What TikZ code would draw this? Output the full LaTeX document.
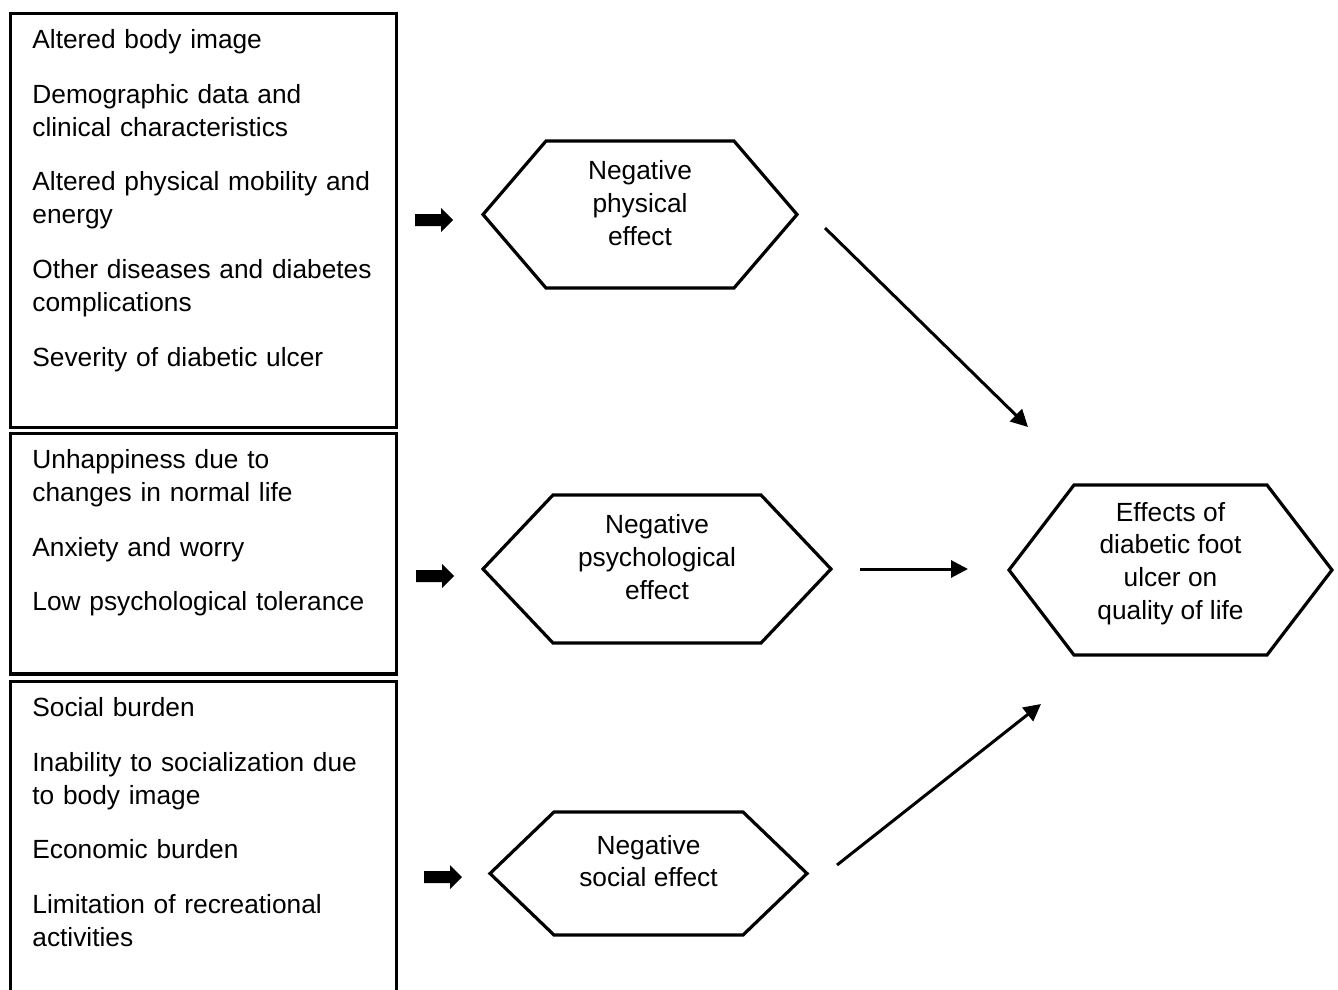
\documentclass[tikz,border=0pt]{standalone}
\usepackage{fontspec}
\setmainfont{Liberation Sans}
\usetikzlibrary{arrows.meta, positioning, calc}

\begin{document}
\begin{tikzpicture}[
  x=0.5pt, y=-0.5pt,
  font=\fontsize{13.15pt}{16.4pt}\selectfont,
  frame/.style={draw, line width=1.8pt, minimum width=193pt, inner sep=0pt},
  items/.style={anchor=base west, align=left, inner sep=0pt, text width=185pt},
  hexlabel/.style={align=center, inner sep=0pt},
  hexline/.style={line width=1.6pt, line join=miter},
  link/.style={line width=1.5pt, -{Triangle[length=8.5pt, width=8.5pt]}}
]

\useasboundingbox (0,0) rectangle (1338,990);

% Factor frames (the last one runs past the lower edge)
\node[frame, minimum height=207pt] (physbox) at (203.5,220.5) {};
\node[frame, minimum height=120.25pt] (psychbox) at (203.5,553.75) {};
\node[frame, minimum height=164.25pt] (socbox) at (203.5,845.75) {};

% Factor lists
\node[items] (physitems) at (32,48.5)
  {Altered body image\\[11pt]
   Demographic data and\\ clinical characteristics\\[11pt]
   Altered physical mobility and\\ energy\\[11pt]
   Other diseases and diabetes\\ complications\\[11pt]
   Severity of diabetic ulcer};
\node[items] (psychitems) at (32,468.5)
  {Unhappiness due to\\ changes in normal life\\[11pt]
   Anxiety and worry\\[11pt]
   Low psychological tolerance};
\node[items] (socitems) at (32,716.5)
  {Social burden\\[11pt]
   Inability to socialization due\\ to body image\\[11pt]
   Economic burden\\[11pt]
   Limitation of recreational\\ activities};

% Effect labels
\node[hexlabel] (phys) at (640,203) {Negative\\physical\\effect};
\node[hexlabel] (psych) at (657,557) {Negative\\psychological\\effect};
\node[hexlabel] (soc) at (648.5,861) {Negative\\social effect};
\node[hexlabel] (qol) at (1170.5,563.5) {Effects of\\diabetic foot\\ulcer on\\quality of life};

% Hexagon outlines round the labels
\foreach \n/\hw/\hh/\sl/\dy in {phys/157/73.5/63/11.5, psych/174/74/70/12,
                                soc/158.5/61.5/64/12.5, qol/161.5/85/65/6.5}
  \draw[hexline] ($(\n.center)+(-\hw,\dy)$) -- ++(\sl,-\hh) -- ++({2*\hw-2*\sl},0)
    -- ++(\sl,\hh) -- ++(-\sl,\hh) -- ++({2*\sl-2*\hw},0) -- cycle;

% Block arrows between lists and effects
\foreach \tx/\ty in {453/220, 454/576, 462/877}
  \fill (\tx,\ty) -- ++(-12,-12) -- ++(0,6) -- ++(-26,0) -- ++(0,12)
    -- ++(26,0) -- ++(0,6) -- cycle;

% Links to quality of life
\coordinate (physout) at (825,228);
\coordinate (qolinA) at (1028,427);
\coordinate (psychout) at (860,569);
\coordinate (qolinB) at (968,569);
\coordinate (socout) at (837,865);
\coordinate (qolinC) at (1041,704);
\draw[link] (physout) -- (qolinA);
\draw[link] (psychout) -- (qolinB);
\draw[link] (socout) -- (qolinC);

\end{tikzpicture}
\end{document}
